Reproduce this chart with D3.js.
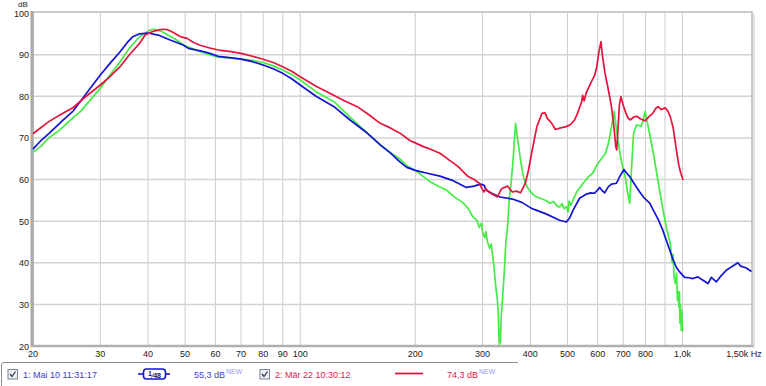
<!DOCTYPE html>
<html lang="de">
<head>
<meta charset="UTF-8">
<title>Frequenzgang</title>
<script src="https://d3js.org/d3.v7.min.js"></script>
<style>
  body { margin: 0; background: #fff; }
  svg { display: block; font-family: "Liberation Sans", Arial, sans-serif; }
  .tick-label { font-size: 9px; fill: #222; }
  .legend-text { font-size: 9px; }
</style>
</head>
<body>
<div id="chart"></div>
<script>
// --- data ---
const redFreq = [20,21,22,23.5,25.5,27.3,30,31.8,33.8,35.7,38,39.3,41,42.4,43.6,45,46.6,48,49,50.6,52.6,55,58,62,66,70,75,80,85,90,95,100,110,122,130,141,150,162,172,182,194,200,210,220,232,245,259,275,285,294,302,306,309,315,328,335,338,349,355,359,368,377,388,395,403,416,429,437,443,455,465,480,496,510,522,532,539,545,548,553,560,575,589,597,604,612,618,627,640,652,662,669,673,678,684,690,700,711,720,731,745,760,775,798,815,836,850,863,880,901,915,929,945,958,970,978,990,1004];
const redDb   = [71,72.5,73.9,75.5,77.3,79.7,82.7,84.7,87.1,89.9,92.7,94.7,95.5,95.9,96.1,96,95.3,94.6,94.2,93.9,92.9,92.2,91.6,91,90.7,90.3,89.6,88.9,88.1,87.1,86,84.7,82.4,80.3,79,77.5,75.8,73.5,72.4,71.2,69.3,68.8,67.9,67.2,66.3,64.7,63.1,60.7,60,59.1,57,57.8,57.3,56.7,55.8,57.5,57.9,58.4,57.5,57,57.2,56.8,59.1,62,66.3,72.7,75.9,76,74.7,73.5,72,72.4,72.7,73.2,74.3,76,77.5,78.7,80.2,78.9,80.8,83.1,85,87.1,90.5,93.1,89.5,85.6,81.5,77.5,72.5,68,67.1,72,78,79.9,77.8,76,74.8,74.3,75,75.2,74.6,74.1,75,75.9,77,77.5,76.8,77.2,76.5,75.1,72.5,68.8,65.5,63.5,61.5,59.9];

const blueFreq = [20,20.9,22,24,25.5,27.6,30,32,33.8,35.5,36.5,38,40,42.5,45.7,49.4,51,55.5,58,61,66,70,75,80,85,90,95,100,110,122.6,135,150,162,172,182,190,200,215,232,250,272,285,296,303,306,315,333,359,380,404,438,477,497,507,517,538,561,575,589,600,607,617,626,640,652,672,685,703,715,728,750,773,795,821,840,863,885,907,925,944,965,983,1013,1040,1065,1097,1131,1166,1190,1226,1260,1302,1342,1370,1396,1420,1439,1465,1498,1515];
const blueDb   = [67.3,69.2,71,74.3,76.5,80.7,85.1,88.2,90.7,93.2,94.3,95,95.2,94.7,93.5,92.3,91.5,90.8,90.3,89.6,89.2,88.9,88.3,87.5,86.6,85.5,84.2,82.7,80,77.5,74.3,71.1,68.3,66.4,64.3,62.9,62.2,61.5,60.8,59.8,58.1,58.4,58.9,58.6,57.5,56.8,55.8,55.3,54.5,53,51.8,50.2,49.8,50.8,52.6,55.5,56.5,56.8,56.7,57.5,58.1,57.3,56.8,58.3,58.9,59.1,60.7,62.4,61.5,60.7,58.8,57,55.5,54.3,52.5,50.5,48.2,45.4,43.2,40.8,38.8,37.8,36.5,36.4,36.2,36.6,35.8,35,36.5,35.4,36.8,38.2,39,39.5,40,39.2,39,38.8,38.2,37.9];

const greenFreq = [20,21,22,23.5,25,26.6,28,30,31.8,33.8,35.7,38,40.5,41.6,43.5,45.5,47.5,50,53.4,56,61,66,70,75,80,85,90,95,100,110,122.6,135,150,162,172,182,190,200,210,219,232,241,253,266,275,283,290,294,298,300,304,306,309,313,316,319,322,325,328,330,331,332,333,334,336,338,342,345,349,352,356,360,363,366,370,377,383,388,395,403,412,420,438,450,460,470,477,484,490,497,502,505,510,517,530,550,565,582,600,620,630,640,650,663,672,680,690,700,708,718,728,736,745,758,768,778,788,798,810,823,840,865,890,910,929,940,945,950,958,965,970,975,978,982,985,988,993,996,1000];
const greenDb   = [66.5,68,70,71.9,74.2,76.3,78.7,81.9,85.1,88.3,91.5,94.3,95.9,96.1,95.5,94.5,93.5,92.1,91.1,90.4,89.4,89.2,89,88.6,88.1,87.3,86.3,85.2,83.9,81.1,78.7,75,71.1,68.3,66.5,65,63.3,62.2,60.7,59.4,58.2,57.5,55.8,54.5,53,51,50.2,48.5,49.5,47.3,46,47.5,45,43.5,44.5,41.5,38,34,31,27,22,20.3,24,20.8,28,31,38,44.7,49,55,59,64,69,73.5,70,64.7,61,59.1,57.8,56.7,56,55.6,55,54.3,54.7,53.6,53.4,54.2,53,53.5,52.2,54.8,53.8,55,57.2,59.1,60.5,61.5,63.8,65.5,66.5,68.7,72,76.3,72,68.7,65,62.5,60.7,57,54.3,63,71.1,73.1,73,72.7,74,76.3,73.5,70.4,66,59.1,52.5,48,44.6,40,42,37,35,37.5,31,33,29.4,33,25.5,30,23.8,28.5,23.4];

const xTickValues = [20,30,40,50,60,70,80,90,100,200,300,400,500,600,700,800,1000,1500];
const xTickLabels = ["20","30","40","50","60","70","80","90","100","200","300","400","500","600","700","800","1,0k","1,50k Hz"];
const xGridValues = [20,30,40,50,60,70,80,90,100,200,300,400,500,600,700,800,900,1000];
const yTickValues = [20,30,40,50,60,70,80,90,100];

const series = [
  { name: "green", freq: greenFreq, db: greenDb, color: "#44ec44" },
  { name: "blue",  freq: blueFreq,  db: blueDb,  color: "#1414d2" },
  { name: "red",   freq: redFreq,   db: redDb,   color: "#e4143c" }
];

// --- layout ---
const W = 766, H = 386;
const plot = { left: 33, right: 752, top: 13, bottom: 346 };

const svg = d3.select("#chart").append("svg")
  .attr("width", W).attr("height", H);

const x = d3.scaleLog().domain([20, 1520]).range([plot.left, plot.right]);
const y = d3.scaleLinear().domain([20, 100]).range([plot.bottom, plot.top]);

// grid
svg.append("g").selectAll("line")
  .data(xGridValues)
  .join("line")
  .attr("x1", d => x(d)).attr("x2", d => x(d))
  .attr("y1", plot.top).attr("y2", plot.bottom)
  .attr("stroke", "#cdcdcd").attr("stroke-width", 1);

svg.append("g").selectAll("line")
  .data(yTickValues.slice(1, -1))
  .join("line")
  .attr("x1", plot.left).attr("x2", plot.right)
  .attr("y1", d => y(d)).attr("y2", d => y(d))
  .attr("stroke", "#d2d2d2").attr("stroke-width", 1.5);

// frame
svg.append("rect")
  .attr("x", plot.right + 1).attr("y", plot.top + 1)
  .attr("width", 2).attr("height", plot.bottom - plot.top + 1)
  .attr("fill", "#e2e2e2");
svg.append("rect")
  .attr("x", plot.left).attr("y", plot.top - 1)
  .attr("width", plot.right - plot.left).attr("height", plot.bottom - plot.top + 1)
  .attr("fill", "none").attr("stroke", "#b8b8b8").attr("stroke-width", 1.5);
svg.append("line")
  .attr("x1", plot.left - 1).attr("x2", plot.left - 1)
  .attr("y1", plot.top - 2).attr("y2", plot.bottom + 1)
  .attr("stroke", "#aaa").attr("stroke-width", 3);
svg.append("line")
  .attr("x1", plot.left - 2).attr("x2", plot.right + 1)
  .attr("y1", plot.bottom).attr("y2", plot.bottom)
  .attr("stroke", "#b0b0b0").attr("stroke-width", 2.5);

// curves
const line = d3.line()
  .x(d => x(d[0]))
  .y(d => y(d[1]));

svg.append("g")
  .selectAll("path")
  .data(series)
  .join("path")
  .attr("d", s => line(s.freq.map((f, i) => [f, s.db[i]])))
  .attr("fill", "none")
  .attr("stroke", s => s.color)
  .attr("stroke-width", 1.7)
  .attr("stroke-linejoin", "round");

// y labels
svg.append("g").selectAll("text")
  .data(yTickValues)
  .join("text")
  .attr("class", "tick-label")
  .attr("x", 29)
  .attr("y", d => y(d) + 3.5)
  .attr("text-anchor", "end")
  .text(d => d);

svg.append("text")
  .attr("class", "tick-label")
  .attr("x", 18).attr("y", 7)
  .style("font-size", "8px")
  .text("dB");

// x labels
svg.append("g").selectAll("text")
  .data(xTickValues)
  .join("text")
  .attr("class", "tick-label")
  .attr("x", (d, i) => i === xTickValues.length - 1 ? x(d) + 12 : x(d))
  .attr("y", 357)
  .attr("text-anchor", (d, i) => i === xTickValues.length - 1 ? "end" : "middle")
  .text((d, i) => xTickLabels[i]);

// legend bar
const lg = svg.append("g");
lg.append("path")
  .attr("d", "M1.5,386 L1.5,365 Q1.5,362.5 4,362.5 L518,362.5")
  .attr("fill", "none").attr("stroke", "#8c8c8c").attr("stroke-width", 1);

function checkbox(cx) {
  lg.append("rect")
    .attr("x", cx).attr("y", 369.5).attr("width", 9.5).attr("height", 9.5)
    .attr("fill", "#eef1f6").attr("stroke", "#7a8494").attr("stroke-width", 1);
  lg.append("path")
    .attr("d", `M${cx + 2},${374} L${cx + 4},${376.5} L${cx + 7.5},${371.5}`)
    .attr("fill", "none").attr("stroke", "#2c3850").attr("stroke-width", 1.3);
}
checkbox(8);
checkbox(260);

lg.append("text").attr("class", "legend-text")
  .attr("x", 23).attr("y", 377.5).attr("fill", "#3c3cc8")
  .text("1: Mai 10 11:31:17");

lg.append("line").attr("x1", 138).attr("x2", 170).attr("y1", 374).attr("y2", 374)
  .attr("stroke", "#1414d2").attr("stroke-width", 1.6);
lg.append("rect").attr("x", 143.5).attr("y", 369).attr("width", 22).attr("height", 10)
  .attr("rx", 3).attr("fill", "#fff").attr("stroke", "#1414d2").attr("stroke-width", 1.6);
lg.append("text").attr("x", 148).attr("y", 376).attr("fill", "#101060")
  .style("font-size", "7px").style("font-weight", "bold").text("1");
lg.append("text").attr("x", 152).attr("y", 378).attr("fill", "#101060")
  .style("font-size", "7px").style("font-weight", "bold").text("⁄48");

function dbLabel(px, txt, col) {
  const t = lg.append("text").attr("class", "legend-text").attr("x", px).attr("y", 377.5).attr("fill", col);
  t.append("tspan").text(txt);
  t.append("tspan").attr("dy", -4).attr("dx", 1).attr("fill", "#9a9aee")
    .style("font-size", "7px").text("NEW");
}
dbLabel(194, "55,3 dB", "#3c3cd4");

lg.append("text").attr("class", "legend-text")
  .attr("x", 275).attr("y", 377.5).attr("fill", "#e0204a")
  .text("2: Mär 22 10:30:12");

lg.append("line").attr("x1", 395).attr("x2", 423).attr("y1", 373.5).attr("y2", 373.5)
  .attr("stroke", "#e4143c").attr("stroke-width", 1.8);
dbLabel(447, "74,3 dB", "#e0204a");
</script>
</body>
</html>
